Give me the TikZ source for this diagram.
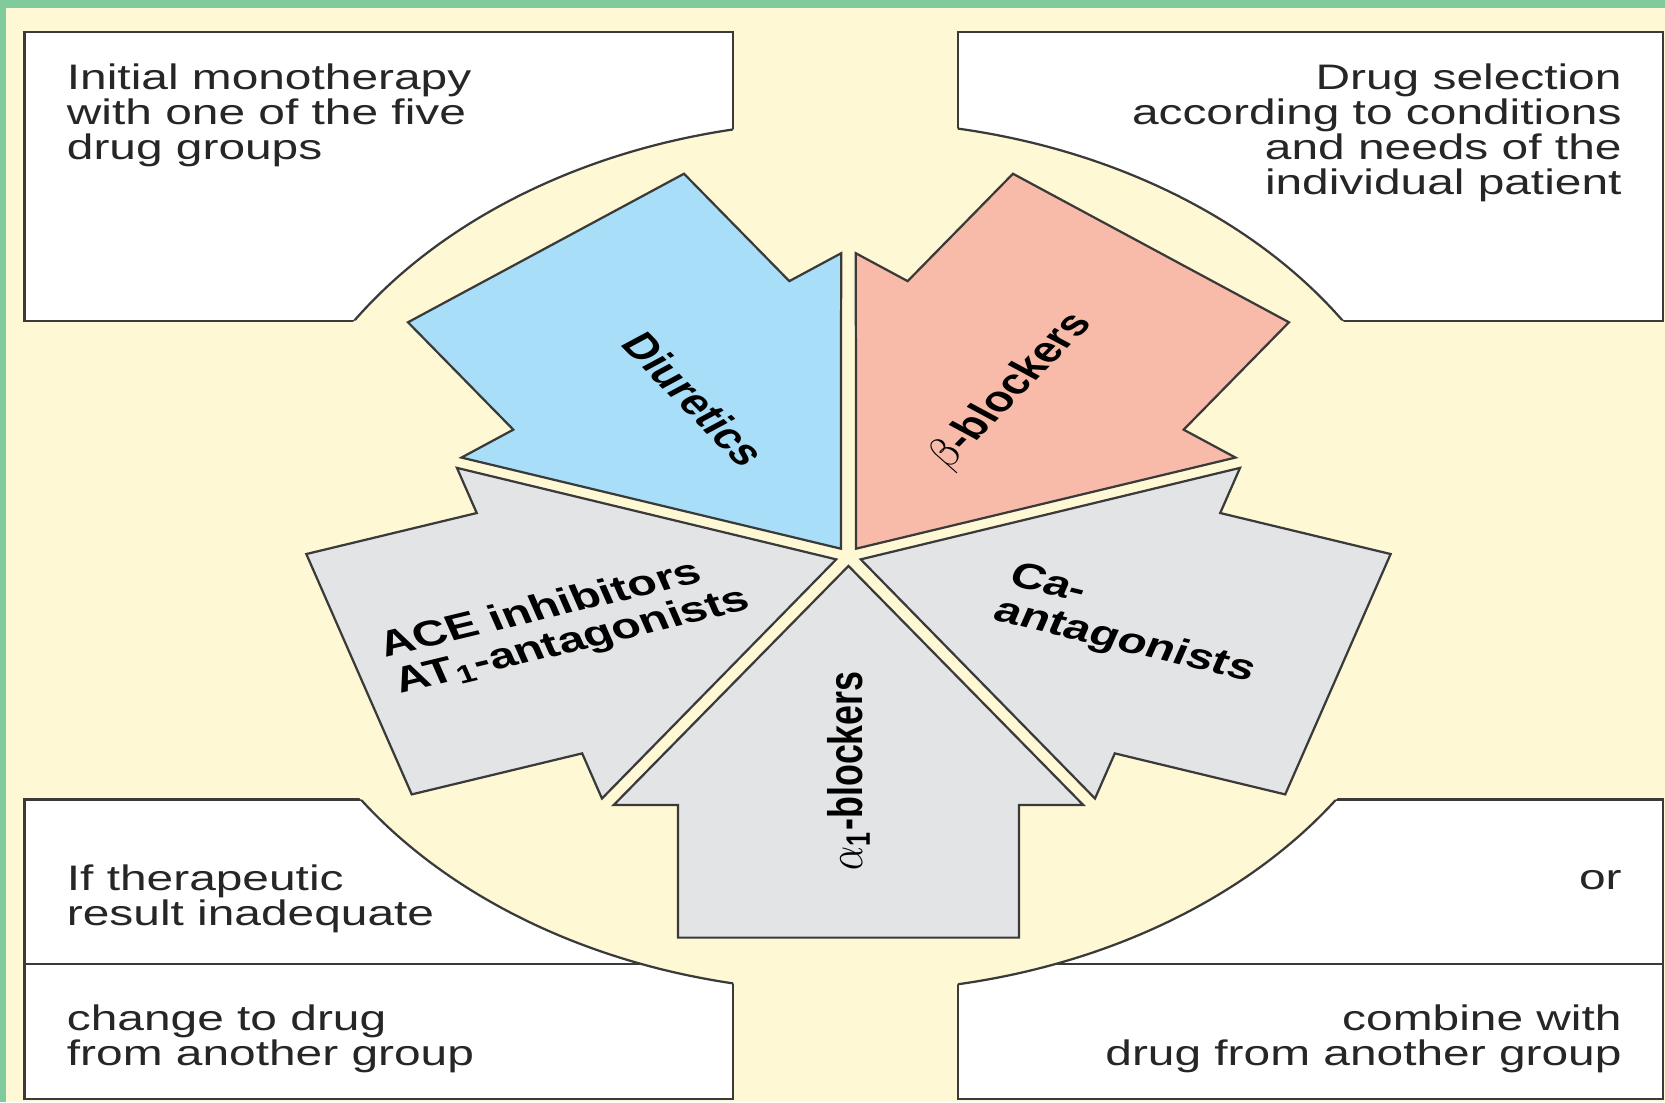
\documentclass[tikz,border=0pt]{standalone}
\usepackage{fontspec}
\setmainfont{Liberation Sans}
\usepackage{tikz}
\definecolor{cream}{HTML}{FFF8D4}
\definecolor{framegreen}{HTML}{80CB9C}
\definecolor{diureticblue}{HTML}{A8DEF8}
\definecolor{betasalmon}{HTML}{F8BBA9}
\definecolor{druggrey}{HTML}{E3E4E6}
\definecolor{outline}{HTML}{3A3A3A}
\tikzstyle{panel} = [draw=outline, line width=0.6pt, fill=white]
\tikzstyle{drug} = [draw=outline, line width=0.6pt]
\tikzstyle{boxtext} = [inner sep=0pt, text=black!85, font=\fontsize{9.5}{9.4}\selectfont]
\tikzstyle{druglabel} = [inner sep=0pt, align=left, font=\fontsize{9.6}{10}\selectfont\bfseries]
\newcommand{\drugarrow}[2]{\draw [drug, fill=#2, rotate=#1] (0,-0.09) -- (1.637,-2.34) -- (1.19,-2.34) -- (1.19,-3.59) -- (-1.19,-3.59) -- (-1.19,-2.34) -- (-1.637,-2.34) -- cycle;}

\begin{document}
\begin{tikzpicture}[xscale=1.35, every node/.append style={transform shape}]
\useasboundingbox (-5.919,-5.14) rectangle (5.696,5.24);
\fill [cream] (-5.919,-5.14) rectangle (5.696,5.24);
\fill [framegreen] (-5.919,5.165) rectangle (5.696,5.24);
\fill [framegreen] (-5.919,-5.14) rectangle (-5.875,5.24);

% corner panels
\draw [panel] (-5.748,2.22) rectangle (-0.807,4.94);
\draw [panel] (0.763,2.22) rectangle (5.681,4.94);
\draw [panel] (-5.748,-3.84) rectangle (-0.807,-2.29);
\draw [panel] (-5.748,-5.11) rectangle (-0.807,-3.84);
\draw [panel] (0.763,-3.84) rectangle (5.681,-2.29);
\draw [panel] (0.763,-5.11) rectangle (5.681,-3.84);

% round cut in the panels
\fill [cream] (0,0) circle (4.1);
\begin{scope}
\clip (-5.748,2.22) rectangle (-0.807,4.94) (0.763,2.22) rectangle (5.681,4.94)
      (-5.748,-5.11) rectangle (-0.807,-2.29) (0.763,-5.11) rectangle (5.681,-2.29);
\draw [drug] (0,0) circle (4.1);
\end{scope}

% five drug groups
\drugarrow{0}{druggrey}
\drugarrow{72}{druggrey}
\drugarrow{144}{betasalmon}
\drugarrow{216}{diureticblue}
\drugarrow{288}{druggrey}

\node (diuretics) [druglabel, rotate=-54] at (126:1.83) {Diuretics};
\node (betablockers) [druglabel, rotate=54] at (54:1.92) {$\beta$-blockers};
\node (caantagonists) [druglabel, rotate=-18] at (-18:2.08) {Ca-\\antagonists};
\node (aceinhibitors) [druglabel, rotate=18] at (198:2.08) {ACE inhibitors\\AT\textsubscript{1}-antagonists};
\node (alphablockers) [druglabel, rotate=90] at (-90:2.02) {$\alpha$\textsubscript{1}-blockers};

\node (initial) [boxtext, align=left, anchor=north west] at (-5.459,4.65) {Initial monotherapy\\with one of the five\\drug groups};
\node (selection) [boxtext, align=right, anchor=north east] at (5.4,4.65) {Drug selection\\according to conditions\\and needs of the\\individual patient};
\node (inadequate) [boxtext, align=left, anchor=north west] at (-5.459,-2.895) {If therapeutic\\result inadequate};
\node (change) [boxtext, align=left, anchor=north west] at (-5.459,-4.215) {change to drug\\from another group};
\node (or) [boxtext, anchor=base east] at (5.4,-3.14) {or};
\node (combine) [boxtext, align=right, anchor=north east] at (5.4,-4.215) {combine with\\drug from another group};
\end{tikzpicture}
\end{document}
